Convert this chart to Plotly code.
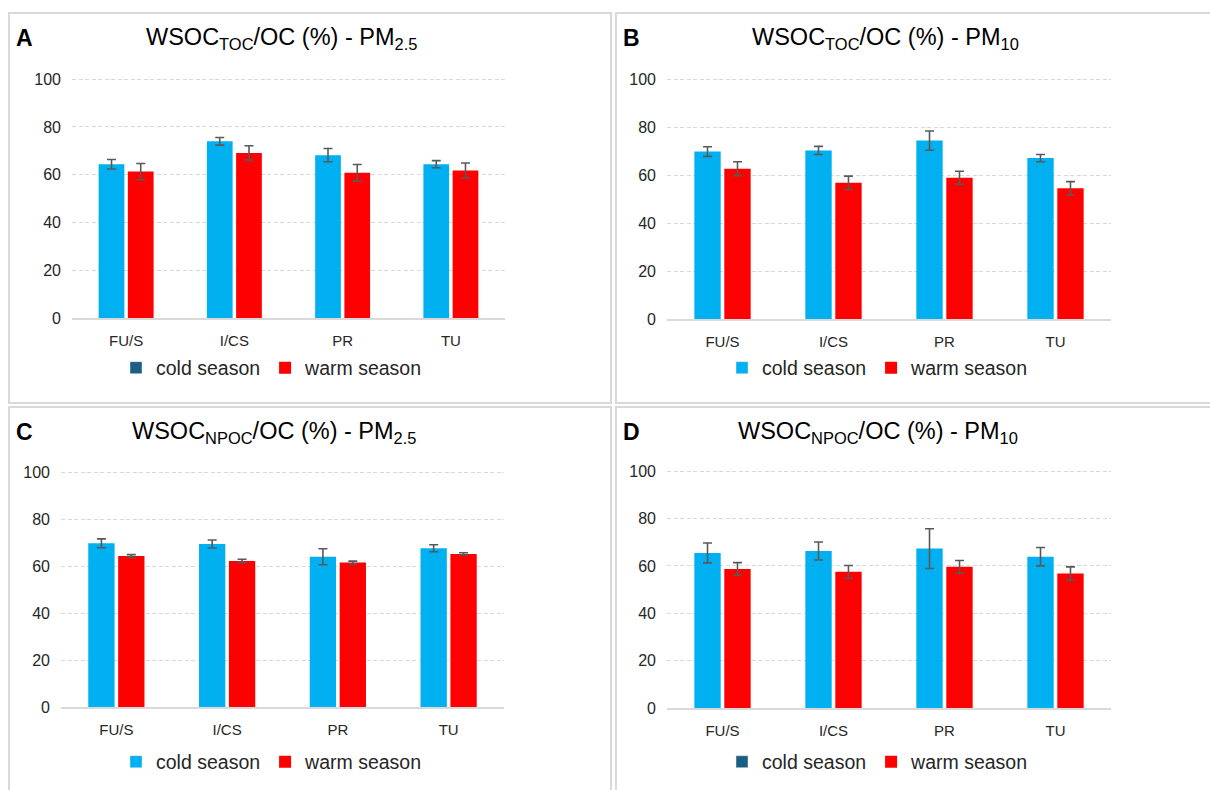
import plotly.graph_objects as go

W, H = 1210, 790

categories = ["FU/S", "I/CS", "PR", "TU"]
series_names = ["cold season", "warm season"]
y_ticks = [0, 20, 40, 60, 80, 100]

# Panel A: WSOC_TOC/OC - PM2.5
a_cold = [64.4, 74.0, 68.2, 64.4]
a_cold_err = [2.0, 1.6, 2.8, 1.5]
a_warm = [61.3, 69.1, 60.8, 61.8]
a_warm_err = [3.4, 3.0, 3.5, 3.1]

# Panel B: WSOC_TOC/OC - PM10
b_cold = [69.8, 70.3, 74.4, 67.1]
b_cold_err = [2.0, 1.7, 4.0, 1.5]
b_warm = [62.7, 56.8, 58.9, 54.5]
b_warm_err = [2.9, 2.8, 2.7, 2.8]

# Panel C: WSOC_NPOC/OC - PM2.5
c_cold = [69.7, 69.4, 64.0, 67.6]
c_cold_err = [1.9, 1.7, 3.4, 1.5]
c_warm = [64.3, 62.2, 61.5, 65.2]
c_warm_err = [0.6, 0.7, 0.6, 0.5]

# Panel D: WSOC_NPOC/OC - PM10
d_cold = [65.5, 66.3, 67.3, 63.9]
d_cold_err = [4.2, 3.8, 8.4, 3.9]
d_warm = [58.7, 57.5, 59.6, 56.8]
d_warm_err = [2.7, 2.7, 2.7, 2.8]

titles = [
    "WSOC<sub>TOC</sub>/OC (%) - PM<sub>2.5</sub>",
    "WSOC<sub>TOC</sub>/OC (%) - PM<sub>10</sub>",
    "WSOC<sub>NPOC</sub>/OC (%) - PM<sub>2.5</sub>",
    "WSOC<sub>NPOC</sub>/OC (%) - PM<sub>10</sub>",
]
letters = ["A", "B", "C", "D"]

COLD = "#00B0F0"
WARM = "#FF0000"
DARK = "#1B5E84"
ERR = "#595959"
GRID = "#D9D9D9"
FONT = "Liberation Sans, Arial, sans-serif"

# layout geometry in page pixels
panels = [
    dict(x0=72, x1=505, ytop=78, ybot=318, title_x=281, title_y=38, letter_x=14, legend_x=272, legend_y=368,
         cold=a_cold, cold_err=a_cold_err, warm=a_warm, warm_err=a_warm_err, legend_cold=DARK),
    dict(x0=667, x1=1111, ytop=78, ybot=319, title_x=885, title_y=38, letter_x=621, legend_x=878, legend_y=368,
         cold=b_cold, cold_err=b_cold_err, warm=b_warm, warm_err=b_warm_err, legend_cold=COLD),
    dict(x0=61, x1=504, ytop=471, ybot=707, title_x=274, title_y=432, letter_x=14, legend_x=272, legend_y=762,
         cold=c_cold, cold_err=c_cold_err, warm=c_warm, warm_err=c_warm_err, legend_cold=COLD),
    dict(x0=667, x1=1111, ytop=470, ybot=708, title_x=878, title_y=432, letter_x=621, legend_x=878, legend_y=762,
         cold=d_cold, cold_err=d_cold_err, warm=d_warm, warm_err=d_warm_err, legend_cold=DARK),
]

fig = go.Figure()
layout = dict(
    width=W, height=H, margin=dict(l=0, r=0, t=0, b=0, pad=0, autoexpand=False),
    paper_bgcolor="white", plot_bgcolor="white",
    barmode="group", bargap=0.46, bargroupgap=0.12,
    font=dict(family=FONT, color="#404040"),
    annotations=[], shapes=[],
)

def px_x(v):
    return v / W

def px_y(v):
    return 1 - v / H

for i, p in enumerate(panels):
    n = "" if i == 0 else str(i + 1)
    xa, ya = "x" + n, "y" + n
    leg = "legend" + n
    # legend-only entry for cold season (legend swatch colour)
    fig.add_trace(go.Bar(x=[None], y=[None], name=series_names[0], marker_color=p["legend_cold"],
                         xaxis=xa, yaxis=ya, legend=leg, offsetgroup="cold", showlegend=True,
                         hoverinfo="skip"))
    fig.add_trace(go.Bar(x=categories, y=p["cold"], name=series_names[0], marker_color=COLD,
                         marker_line_width=0, xaxis=xa, yaxis=ya, legend=leg, offsetgroup="cold",
                         showlegend=False,
                         error_y=dict(type="data", array=p["cold_err"], color=ERR, thickness=1.6, width=4.5)))
    fig.add_trace(go.Bar(x=categories, y=p["warm"], name=series_names[1], marker_color=WARM,
                         marker_line_width=0, xaxis=xa, yaxis=ya, legend=leg, offsetgroup="warm",
                         showlegend=True,
                         error_y=dict(type="data", array=p["warm_err"], color=ERR, thickness=1.6, width=4.5)))
    layout["xaxis" + n] = dict(
        domain=[px_x(p["x0"]), px_x(p["x1"])], anchor=ya, type="category", automargin=False,
        showgrid=False, showline=True, linecolor=GRID, linewidth=1.5, ticks="",
        tickfont=dict(size=15, color="#262626", family=FONT), ticklabelstandoff=8, fixedrange=True,
    )
    layout["yaxis" + n] = dict(
        domain=[px_y(p["ybot"]), px_y(p["ytop"])], anchor=xa, range=[0, 100.5], automargin=False,
        tickvals=y_ticks, showgrid=True, gridcolor=GRID, griddash="4px,2.5px", gridwidth=1.3,
        zeroline=False, showline=False, ticks="",
        tickfont=dict(size=16, color="#262626", family=FONT), ticklabelstandoff=10, fixedrange=True,
    )
    layout[leg] = dict(
        orientation="h", x=px_x(p["legend_x"]), y=px_y(p["legend_y"]), xanchor="center", yanchor="middle",
        font=dict(size=19.5, color="#262626", family=FONT), itemwidth=30, bgcolor="rgba(0,0,0,0)",
        tracegroupgap=0,
    )
    layout["annotations"].append(dict(
        text=titles[i], x=px_x(p["title_x"]), y=px_y(p["title_y"]), xref="paper", yref="paper",
        xanchor="center", yanchor="middle", showarrow=False,
        font=dict(size=23.5, color="#000000", family=FONT)))
    layout["annotations"].append(dict(
        text="<b>" + letters[i] + "</b>", x=px_x(p["letter_x"]), y=px_y(p["title_y"]), xref="paper", yref="paper",
        xanchor="left", yanchor="middle", showarrow=False,
        font=dict(size=23, color="#000000", family=FONT)))

# panel frames (page pixels); right/bottom edges of the outer panels lie off the page
frames = [(9, 13, 611, 403), (616, 13, 1240, 403), (9, 407, 611, 820), (616, 407, 1240, 820)]
for (l, t, r, b) in frames:
    layout["shapes"].append(dict(type="rect", xref="paper", yref="paper",
                                 x0=px_x(l), x1=px_x(r), y0=px_y(b), y1=px_y(t),
                                 line=dict(color=GRID, width=2), fillcolor="rgba(0,0,0,0)", layer="below"))

fig.update_layout(**layout)
fig.write_html("out.html", config={"displayModeBar": False},
               post_script="document.body.style.margin='0';document.body.style.overflow='hidden';")
